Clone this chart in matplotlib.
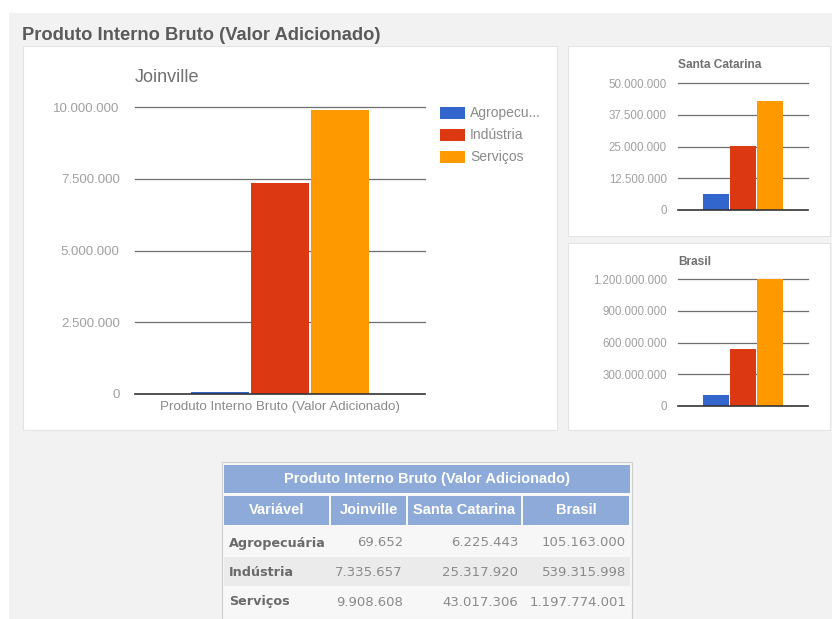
import matplotlib
matplotlib.use("Agg")
import matplotlib.pyplot as plt
from matplotlib.patches import Rectangle
from matplotlib.ticker import FuncFormatter

plt.rcParams["font.family"] = ["Liberation Sans", "DejaVu Sans"]

# ---- data ----
sectors = ["Agropecuária", "Indústria", "Serviços"]
regions = ["Joinville", "Santa Catarina", "Brasil"]
joinville = [69652, 7335657, 9908608]
santa_catarina = [6225443, 25317920, 43017306]
brasil = [105163000, 539315998, 1197774001]
joinville_ticks = [0, 2500000, 5000000, 7500000, 10000000]
sc_ticks = [0, 12500000, 25000000, 37500000, 50000000]
brasil_ticks = [0, 300000000, 600000000, 900000000, 1200000000]
main_title = "Produto Interno Bruto (Valor Adicionado)"

colors = ["#3366cc", "#dc3912", "#ff9900"]
W, H = 832, 619


def fx(x):
    return x / W


def fy(y):
    return 1 - y / H


def dotted(v):
    return f"{int(round(v)):,}".replace(",", ".")


fig = plt.figure(figsize=(W / 100, H / 100), dpi=100)
fig.patch.set_facecolor("white")

# page background and panels
fig.patches.append(Rectangle((fx(9), fy(619)), fx(823), 606 / H, transform=fig.transFigure,
                             facecolor="#f2f2f2", edgecolor="none", zorder=-10))
for (x0, y0, x1, y1) in [(23, 46, 557, 430), (568, 46, 830, 236), (568, 243, 830, 430)]:
    fig.patches.append(Rectangle((fx(x0), fy(y1)), (x1 - x0) / W, (y1 - y0) / H,
                                 transform=fig.transFigure, facecolor="white",
                                 edgecolor="#e4e4e4", linewidth=0.8, zorder=-9))

fig.text(fx(22), fy(36), main_title, fontsize=13.2, fontweight="bold", color="#5a5a5a",
         ha="left", va="center")


def bar_chart(rect, values, ticks, title, tick_size, title_size, pad, title_xy, title_bold):
    x0, y0, x1, y1 = rect
    ax = fig.add_axes([fx(x0), fy(y1), (x1 - x0) / W, (y1 - y0) / H])
    ax.set_facecolor("none")
    offsets = [-0.206, 0.0, 0.206]
    for off, v, c in zip(offsets, values, colors):
        ax.bar(off, v, width=0.2, color=c, zorder=3)
    ax.set_xlim(-0.5, 0.5)
    ax.set_ylim(ticks[0], ticks[-1])
    ax.set_yticks(ticks)
    ax.yaxis.set_major_formatter(FuncFormatter(lambda v, p: dotted(v)))
    ax.tick_params(axis="y", length=0, pad=pad, labelsize=tick_size, labelcolor="#a0a0a0")
    ax.set_xticks([])
    for s in ax.spines.values():
        s.set_visible(False)
    for t in ticks[1:]:
        ax.axhline(t, color="#6e6e6e", linewidth=0.9, zorder=1, clip_on=False)
    ax.axhline(0, color="#333333", linewidth=1.2, zorder=4, clip_on=False)
    fig.text(fx(title_xy[0]), fy(title_xy[1]), title, fontsize=title_size, color="#707070",
             ha="left", va="center", fontweight="bold" if title_bold else "normal")
    return ax


ax_j = bar_chart((135, 107, 425, 394), joinville, joinville_ticks, regions[0], 9.5, 13, 11,
                 (135, 77), False)
ax_j.set_xlabel(main_title, fontsize=9.6, color="#8a8a8a", labelpad=5)

bar_chart((678, 83, 808, 210), santa_catarina, sc_ticks, regions[1], 8.3, 8.6, 8,
          (678, 65), True)
bar_chart((678, 279, 808, 406), brasil, brasil_ticks, regions[2], 8.3, 8.6, 8,
          (678, 262), True)

# legend
for i, (name, c) in enumerate(zip(sectors, colors)):
    yc = 113 + 22 * i
    fig.patches.append(Rectangle((fx(440), fy(yc + 6)), 25 / W, 12 / H, transform=fig.transFigure,
                                 facecolor=c, edgecolor="none"))
    label = name if len(name) <= 10 else name[:8] + "..."
    fig.text(fx(470), fy(yc), label, fontsize=10, color="#8a8a8a", ha="left", va="center")

# table
col_edges = [224, 330, 407, 522, 630]
head_blue = "#8eaad9"
fig.patches.append(Rectangle((fx(222), fy(619)), 410 / W, (619 - 462) / H, transform=fig.transFigure,
                             facecolor="#f7f7f7", edgecolor="#cfcfcf", linewidth=0.8))
fig.patches.append(Rectangle((fx(224), fy(493)), (630 - 224) / W, 28 / H, transform=fig.transFigure,
                             facecolor=head_blue, edgecolor="none"))
fig.text(fx(427), fy(479), main_title, fontsize=10.5, fontweight="bold", color="white",
         ha="center", va="center")
headers = ["Variável"] + regions
for j, h in enumerate(headers):
    a, b = col_edges[j] + (0 if j == 0 else 1), col_edges[j + 1] - 1
    fig.patches.append(Rectangle((fx(a), fy(525)), (b - a) / W, 29 / H, transform=fig.transFigure,
                                 facecolor=head_blue, edgecolor="none"))
    fig.text(fx((a + b) / 2), fy(510), h, fontsize=10.5, fontweight="bold", color="white",
             ha="center", va="center")

row_tops = [528, 557, 587]
row_fill = ["#f7f7f7", "#ebebeb", "#f7f7f7"]
columns = [joinville, santa_catarina, brasil]
for i, name in enumerate(sectors):
    top = row_tops[i]
    bot = top + 29
    fig.patches.append(Rectangle((fx(224), fy(bot)), (630 - 224) / W, 29 / H,
                                 transform=fig.transFigure, facecolor=row_fill[i], edgecolor="none"))
    yc = top + 15
    fig.text(fx(229), fy(yc), name, fontsize=9.2, fontweight="bold", color="#6a6a6a",
             ha="left", va="center", family="DejaVu Sans")
    for j, col in enumerate(columns):
        fig.text(fx(col_edges[j + 2] - 4), fy(yc), dotted(col[i]), fontsize=9.5, color="#8a8a8a",
                 ha="right", va="center", family="DejaVu Sans")

fig.savefig("out.png", dpi=100)
